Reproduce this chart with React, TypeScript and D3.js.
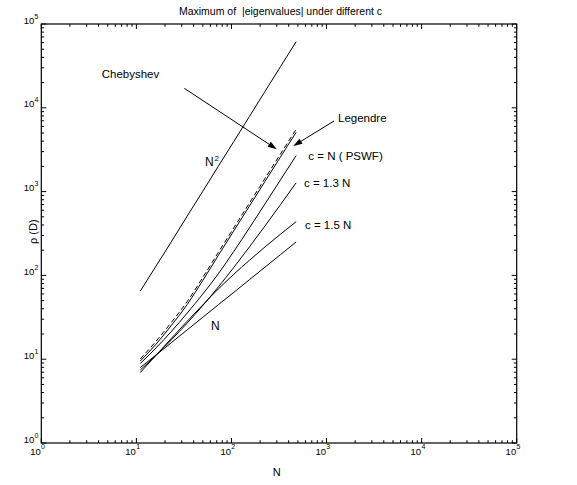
import React from "react";
import * as d3 from "d3";

// N positions (as read on the x axis)
const N_VALUES = [11, 16.1, 23.5, 34.2, 49.9, 72.7, 106, 154.5, 225, 328, 479];
// Series (max |eigenvalue|)
const CHEBYSHEV = [10.06, 16.4, 27.8, 48.68, 94.4, 187.7, 370.9, 729.3, 1433, 2818, 5538];
const LEGENDRE = [9.52, 15.1, 25.6, 44.83, 86.9, 172.9, 341.6, 671.7, 1320, 2595, 5100];
const PSWF_C_N = [8.89, 13.64, 21.64, 35.49, 59.82, 104.5, 193.9, 368.8, 711.2, 1383, 2689];
const PSWF_C_13N = [7.43, 11.16, 17.14, 26.97, 43.62, 72.7, 124.9, 218.8, 388.6, 699.7, 1274];
const PSWF_C_15N = [6.94, 11.13, 17.86, 28.34, 44.46, 68.8, 103.3, 151.4, 218.3, 310.1, 437.3];
const REF_N = [7.96, 11.22, 15.86, 22.37, 31.62, 44.59, 62.86, 88.86, 125.3, 177.1, 250.4];
const REF_N2 = [65.13, 129.1, 255.9, 508.7, 1008, 2004, 3972, 7874, 15650, 31010, 61490];

const DECADES = [0, 1, 2, 3, 4, 5];
const MINOR_MULT = [2, 3, 4, 5, 6, 7, 8, 9];
const TITLE = "Maximum of  |eigenvalues| under different c";
const X_LABEL = "N";
const Y_LABEL = "ρ (D)";

const W = 577;
const H = 485;
const FONT = "'Liberation Sans', Arial, Helvetica, sans-serif";

const L = 41.3, R = 516.7, T = 24, B = 443;

export default function App() {
  const x = d3.scaleLog().domain([1, 1e5]).range([L, R]);
  const y = d3.scaleLog().domain([1, 1e5]).range([B, T]);

  const line = d3
    .line<number>()
    .curve(d3.curveMonotoneX)
    .x((_, i) => x(N_VALUES[i]))
    .y((d) => y(d));

  const series = [
    { v: REF_N2, dash: undefined },
    { v: LEGENDRE, dash: undefined },
    { v: CHEBYSHEV, dash: "5,3" },
    { v: PSWF_C_N, dash: undefined },
    { v: PSWF_C_13N, dash: undefined },
    { v: PSWF_C_15N, dash: undefined },
    { v: REF_N, dash: undefined },
  ];

  const majors = DECADES.map((k) => Math.pow(10, k));
  const minors: number[] = [];
  DECADES.slice(0, 5).forEach((k) =>
    MINOR_MULT.forEach((m) => minors.push(m * Math.pow(10, k)))
  );

  const tickEls: JSX.Element[] = [];
  const MAJ = 5, MIN = 2.8;
  majors.forEach((v, i) => {
    const px = x(v), py = y(v);
    tickEls.push(<line key={"xb" + i} x1={px} x2={px} y1={B} y2={B - MAJ} />);
    tickEls.push(<line key={"xt" + i} x1={px} x2={px} y1={T} y2={T + MAJ} />);
    tickEls.push(<line key={"yl" + i} x1={L} x2={L + MAJ} y1={py} y2={py} />);
    tickEls.push(<line key={"yr" + i} x1={R} x2={R - MAJ} y1={py} y2={py} />);
  });
  minors.forEach((v, i) => {
    const px = x(v), py = y(v);
    tickEls.push(<line key={"mxb" + i} x1={px} x2={px} y1={B} y2={B - MIN} />);
    tickEls.push(<line key={"mxt" + i} x1={px} x2={px} y1={T} y2={T + MIN} />);
    tickEls.push(<line key={"myl" + i} x1={L} x2={L + MIN} y1={py} y2={py} />);
    tickEls.push(<line key={"myr" + i} x1={R} x2={R - MIN} y1={py} y2={py} />);
  });

  const arrow = (x1: number, y1: number, x2: number, y2: number, key: string) => {
    const a = Math.atan2(y2 - y1, x2 - x1);
    const len = 9, half = 3;
    const bx = x2 - len * Math.cos(a), by = y2 - len * Math.sin(a);
    const px = -Math.sin(a), py = Math.cos(a);
    return (
      <g key={key}>
        <line x1={x1} y1={y1} x2={bx} y2={by} stroke="#000" strokeWidth={1} />
        <polygon
          points={`${x2},${y2} ${bx + px * half},${by + py * half} ${bx - px * half},${by - py * half}`}
          fill="#000"
        />
      </g>
    );
  };

  return (
    <svg
      width={W}
      height={H}
      style={{ position: "absolute", left: 0, top: 0, background: "#fff" }}
      fontFamily={FONT}
    >
      <rect x={0} y={0} width={W} height={H} fill="#fff" />
      <text x={280.5} y={14.5} fontSize={10.5} textAnchor="middle" style={{ whiteSpace: "pre" }}>
        {TITLE}
      </text>

      {series.map((s, i) => (
        <path
          key={i}
          d={line(s.v) || ""}
          fill="none"
          stroke="#000"
          strokeWidth={1}
          strokeDasharray={s.dash}
        />
      ))}

      <g stroke="#000" strokeWidth={1}>{tickEls}</g>
      <rect x={L} y={T} width={R - L} height={B - T} fill="none" stroke="#000" strokeWidth={1.2} />

      {DECADES.map((k) => {
        const px = x(Math.pow(10, k));
        return (
          <g key={"xl" + k}>
            <text x={px - 0.5} y={454.5} fontSize={9.5} textAnchor="end">10</text>
            <text x={px - 0.2} y={449} fontSize={7}>{k}</text>
          </g>
        );
      })}
      {DECADES.map((k) => {
        const py = y(Math.pow(10, k));
        return (
          <g key={"yl" + k}>
            <text x={34.3} y={py - 0.5} fontSize={9.5} textAnchor="end">10</text>
            <text x={34.6} y={py - 5.5} fontSize={7}>{k}</text>
          </g>
        );
      })}

      <text x={276.7} y={476} fontSize={11} textAnchor="middle">{X_LABEL}</text>
      <text
        transform="translate(36.5,231.7) rotate(-90)"
        fontSize={11}
        textAnchor="middle"
      >
        {Y_LABEL}
      </text>

      {/* annotations */}
      <text x={101.7} y={77.5} fontSize={11.5}>Chebyshev</text>
      {arrow(184.3, 88.3, 276.7, 149.3, "a1")}
      <text x={338} y={121.5} fontSize={11.5}>Legendre</text>
      {arrow(334, 121, 293.3, 146, "a2")}
      <text x={308.3} y={160} fontSize={11.5} style={{ whiteSpace: "pre" }}>c = N ( PSWF)</text>
      <text x={304} y={187} fontSize={11.5}>c = 1.3 N</text>
      <text x={305} y={228.5} fontSize={11.5}>c = 1.5 N</text>
      <text x={205} y={166} fontSize={12}>N</text>
      <text x={214.5} y={160.5} fontSize={8}>2</text>
      <text x={211} y={329.5} fontSize={12}>N</text>
    </svg>
  );
}
